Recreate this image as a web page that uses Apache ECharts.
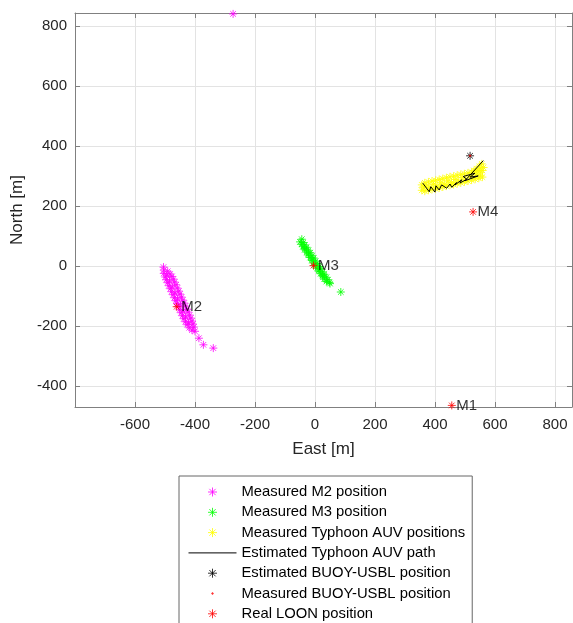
<!DOCTYPE html>
<html>
<head>
<meta charset="utf-8">
<script src="https://cdn.jsdelivr.net/npm/echarts@6/dist/echarts.min.js"></script>
<style>
html,body{margin:0;padding:0;background:#fff;}
#chart{width:573px;height:623px;}
</style>
</head>
<body>
<div id="chart"></div>
<script>
// ---- data (East [m], North [m]) ----
const m2Points = [
  [-505,-4],[-504,-14],[-491,-18],[-504,-25],[-483,-27],[-494,-31],[-499,-37],[-477,-35],
  [-496,-46],[-472,-44],[-485,-50],[-491,-56],[-468,-54],[-487,-66],[-463,-63],[-476,-70],
  [-482,-76],[-459,-74],[-478,-86],[-454,-84],[-467,-90],[-473,-96],[-450,-94],[-469,-106],
  [-445,-104],[-458,-110],[-464,-116],[-441,-114],[-460,-126],[-436,-124],[-449,-130],
  [-455,-136],[-432,-134],[-451,-146],[-427,-144],[-440,-150],[-446,-156],[-423,-154],
  [-442,-166],[-418,-164],[-431,-170],[-437,-176],[-414,-174],[-432,-186],[-410,-184],
  [-422,-190],[-426,-196],[-407,-194],[-419,-206],[-404,-204],[-410,-214],[-400,-218],
  [-387,-241],[-372,-263],[-339,-274],[-273,840]
];
const m3Points = [
  [-44,89],[-50,80],[-39,78],[-45,72],[-34,70],[-40,64],[-28,62],[-34,58],[-34,54],[-22,52],
  [-28,46],[-16,44],[-22,40],[-22,36],[-10,34],[-16,28],[-4,26],[-10,22],[-10,18],[2,16],
  [-5,10],[7,8],[1,4],[2,0],[14,-2],[7,-8],[19,-10],[13,-14],[14,-18],[26,-20],[19,-26],
  [31,-28],[25,-32],[26,-36],[38,-38],[31,-44],[43,-46],[38,-52],[48,-55],[50,-59],[86,-87]
];
const auvPoints = [
  [356,270],[356,252],[362,262],[366,277],[366,249],[371,266],[378,280],[378,252],[383,262],
  [390,283],[390,255],[395,272],[402,285],[402,257],[407,266],[414,288],[414,260],[419,277],
  [426,291],[426,263],[431,272],[438,294],[438,266],[443,283],[450,297],[450,269],[455,278],
  [462,299],[462,271],[467,288],[474,302],[474,274],[479,283],[486,305],[486,277],[491,294],
  [498,307],[498,280],[503,289],[510,310],[510,283],[515,300],[522,312],[522,286],[527,294],
  [534,315],[534,289],[539,305],[546,318],[546,292],[551,300],[558,318],[558,296],
  [540,324],[548,332],[556,340],[530,318],[562,328],[552,312]
];
const auvPath = [
  [359,276],[381,247],[386,264],[400,246],[403,267],[414,253],[422,270],[439,259],[450,273],
  [456,262],[472,278],[467,270],[489,287],[483,276],[506,289],[494,298],[533,309],[517,296],
  [544,300],[500,284],[561,351]
];
const buoyEstimated = [[517,367]];
const buoyMeasured = [[517,367]];
const loonPoints = [[456,-465],[-461,-136],[-5,1],[527,180]];
const loonNames = ['M1','M2','M3','M4'];
const seriesNames = [
  'Measured M2 position',
  'Measured M3 position',
  'Measured Typhoon AUV positions',
  'Estimated Typhoon AUV path',
  'Estimated BUOY-USBL position',
  'Measured BUOY-USBL position',
  'Real LOON position'
];
const xRange = [-800, 856.7];
const yRange = [-470.3, 843];
const tickStep = 200;

// ---- styling ----
const FONT = '"Liberation Sans", Arial, Helvetica, sans-serif';
const STAR = 'path://M5,0L5,10M0,5L10,5M1.5,1.5L8.5,8.5M1.5,8.5L8.5,1.5';
const DOT = 'path://M0,0M10,10M3.4,5L5,3.4L6.6,5L5,6.6Z';
const LINE_ICON = 'path://M0,0M48,9M0,4.5L48,4.5';
const AXIS_C = '#808080';
const GRID_C = '#e3e3e3';

function starSeries(name, data, color, size) {
  return {
    name: name, type: 'scatter', data: data, symbol: STAR, symbolSize: size,
    itemStyle: {color: color, borderColor: color, borderWidth: 1},
    emphasis: {disabled: true}, clip: false
  };
}

function axisCommon(range, pos) {
  return {
    type: 'value', min: range[0], max: range[1],
    minInterval: tickStep, maxInterval: tickStep,
    position: pos,
    axisLine: {show: true, onZero: false, lineStyle: {color: AXIS_C, width: 1}},
    axisTick: {show: true, inside: true, length: 5, lineStyle: {color: AXIS_C}},
  };
}

const chart = echarts.init(document.getElementById('chart'), null, {renderer: 'canvas'});

const xBottom = Object.assign(axisCommon(xRange, 'bottom'), {
  axisLabel: {show: true, showMinLabel: false, showMaxLabel: false, color: '#262626', fontSize: 15, margin: 10, fontFamily: FONT},
  splitLine: {show: true, lineStyle: {color: GRID_C, width: 1}},
  name: 'East [m]', nameLocation: 'middle', nameGap: 34,
  nameTextStyle: {fontSize: 17, color: '#262626', fontFamily: FONT}
});
const xTop = Object.assign(axisCommon(xRange, 'top'), {
  axisLabel: {show: false}, splitLine: {show: false}
});
const yLeft = Object.assign(axisCommon(yRange, 'left'), {
  axisLabel: {show: true, showMinLabel: false, showMaxLabel: false, color: '#262626', fontSize: 15, margin: 8, fontFamily: FONT},
  splitLine: {show: true, lineStyle: {color: GRID_C, width: 1}},
  name: 'North [m]', nameLocation: 'middle', nameGap: 41,
  nameTextStyle: {fontSize: 17, color: '#262626', fontFamily: FONT}
});
const yRight = Object.assign(axisCommon(yRange, 'right'), {
  axisLabel: {show: false}, splitLine: {show: false}
});

const option = {
  animation: false,
  textStyle: {fontFamily: FONT},
  grid: {left: 75, top: 13, right: 1, bottom: 216, containLabel: false, outerBoundsMode: 'none'},
  xAxis: [xBottom, xTop],
  yAxis: [yLeft, yRight],
  legend: {
    orient: 'vertical', left: 179, top: 476, height: 220,
    padding: [8, 7, 6, 9], itemWidth: 48, itemHeight: 9, itemGap: 4.3,
    borderColor: '#666', borderWidth: 1, backgroundColor: '#fff',
    textStyle: {fontSize: 14.8, color: '#000', lineHeight: 16, fontFamily: FONT},
    itemStyle: {borderWidth: 1},
    selectedMode: false,
    data: seriesNames.map(function (n, i) {
      if (i === 3) return {name: n, icon: LINE_ICON, itemStyle: {color: '#000', borderColor: '#000', borderWidth: 1}};
      if (i === 5) return {name: n, itemStyle: {borderWidth: 0}};
      return {name: n};
    })
  },
  series: [
    starSeries(seriesNames[0], m2Points, '#ff00ff', 8),
    starSeries(seriesNames[1], m3Points, '#00ff00', 8),
    starSeries(seriesNames[2], auvPoints, '#ffff00', 8),
    {
      name: seriesNames[3], type: 'line', data: auvPath, symbol: 'none', showSymbol: false,
      lineStyle: {color: '#000', width: 1}, itemStyle: {color: '#000'},
      emphasis: {disabled: true}
    },
    starSeries(seriesNames[4], buoyEstimated, '#000', 8),
    {
      name: seriesNames[5], type: 'scatter', data: buoyMeasured, symbol: DOT, symbolSize: 9,
      itemStyle: {color: '#ff0000', borderWidth: 0}, emphasis: {disabled: true}
    },
    Object.assign(starSeries(seriesNames[6], loonPoints, '#ff0000', 8), {
      label: {
        show: true, position: 'right', distance: 0, color: '#000', fontSize: 15, fontFamily: FONT,
        formatter: function (p) { return loonNames[p.dataIndex]; }
      }
    })
  ]
};
chart.setOption(option);
</script>
</body>
</html>
